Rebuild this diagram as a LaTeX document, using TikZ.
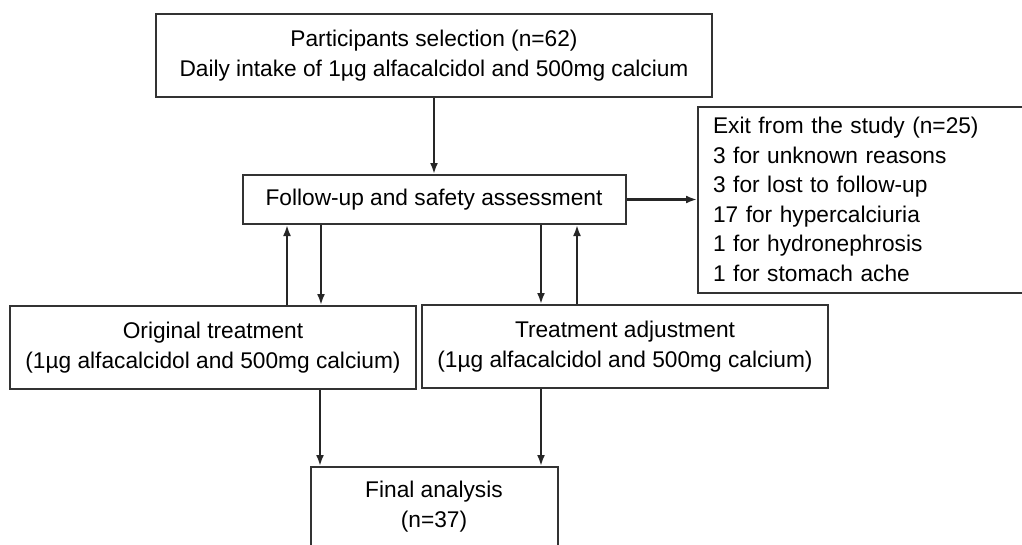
\documentclass[tikz,border=0pt]{standalone}
\usepackage{fontspec}
\setmainfont{Liberation Sans}
\usetikzlibrary{positioning, arrows.meta}

\begin{document}
\begin{tikzpicture}[-{Latex[length=11pt, width=8pt]}, x=1pt, y=-1pt, node distance = 144pt and 200pt, on grid, line width=2.2pt, draw=black!85,
box/.style ={rectangle, draw=black!80, line width=2pt, text=black, align=center, inner sep=0pt, font=\fontsize{22.7}{29.5}\selectfont}]
\useasboundingbox (0,0) rectangle (1022,544);
\node[box, minimum width=556pt, minimum height=83pt] (sel) at (434,55.5) {Participants selection (n=62)\\Daily intake of 1µg alfacalcidol and 500mg calcium};
\node[box, minimum width=383pt, minimum height=49pt] (fu) [below = 144pt of sel] {Follow-up and safety assessment};
\node[box, minimum width=327pt, minimum height=186pt, text width=297pt, inner xsep=15pt, align=left] (exit) [right = 427.5pt of fu] {Exit from the study (n=25)\\3 for unknown reasons\\3 for lost to follow-up\\17 for hypercalciuria\\1 for hydronephrosis\\1 for stomach ache};
\node[box, minimum width=406pt, minimum height=83pt] (orig) [below left = 148pt and 221pt of fu] {Original treatment\\(1µg alfacalcidol and 500mg calcium)};
\node[box, minimum width=406pt, minimum height=83pt] (adj) [below right = 147pt and 191pt of fu] {Treatment adjustment\\(1µg alfacalcidol and 500mg calcium)};
\node[box, minimum width=247pt, minimum height=79pt] (final) [below = 307pt of fu] {Final analysis\\(n=37)};

\path (sel) edge (fu)
      (fu) edge (exit);
\draw ([xshift=74pt]orig.north) -- ([xshift=74pt]orig.north |- fu.south);
\draw ([xshift=108pt]orig.north |- fu.south) -- ([xshift=108pt]orig.north);
\draw ([xshift=-84pt]adj.north |- fu.south) -- ([xshift=-84pt]adj.north);
\draw ([xshift=-48pt]adj.north) -- ([xshift=-48pt]adj.north |- fu.south);
\draw ([xshift=107pt]orig.south) -- ([xshift=107pt]orig.south |- final.north);
\draw ([xshift=-84pt]adj.south) -- ([xshift=-84pt]adj.south |- final.north);
\end{tikzpicture}
\end{document}
